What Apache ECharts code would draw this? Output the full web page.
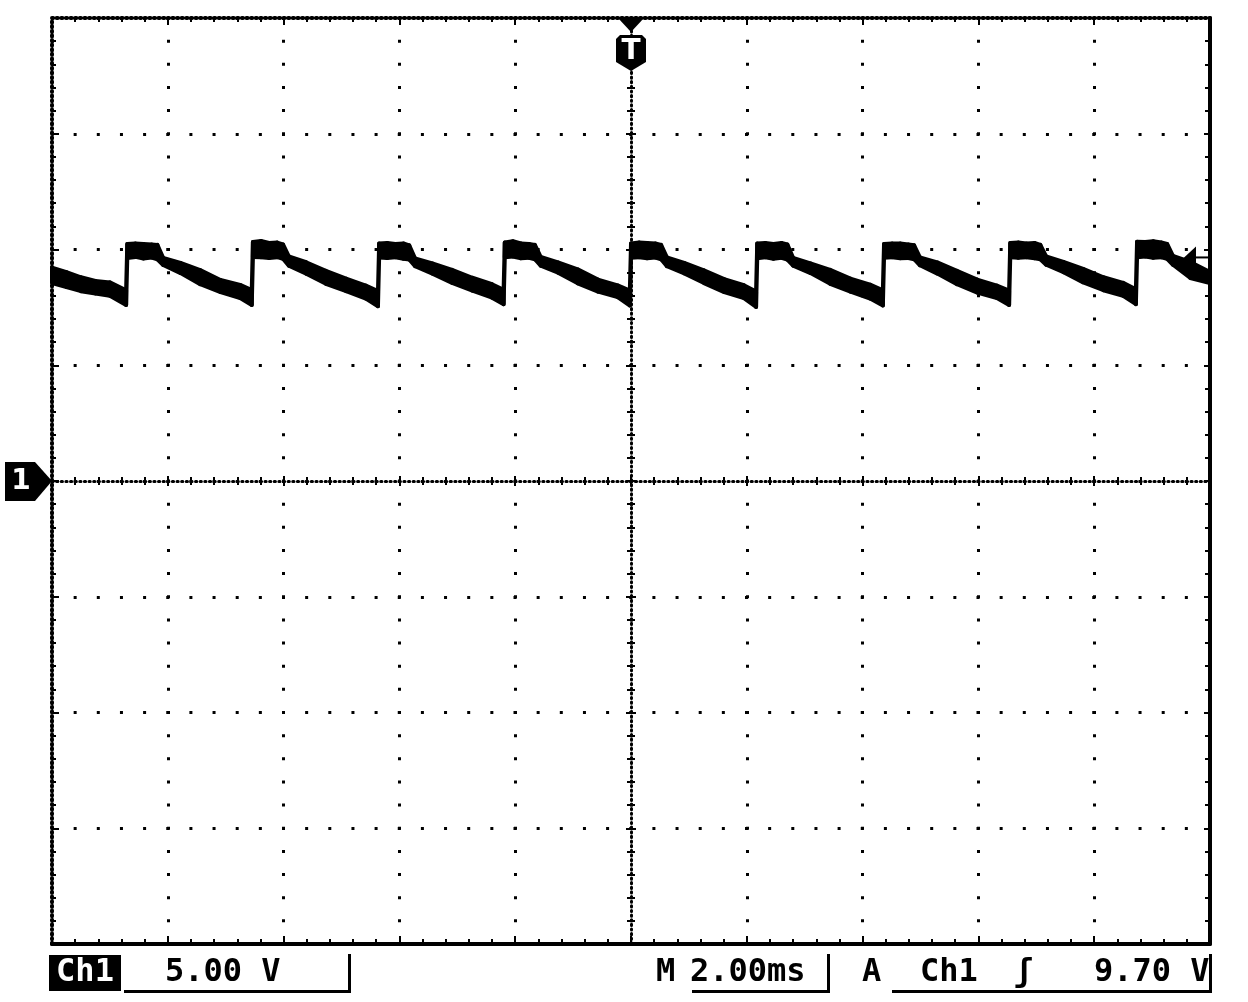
<!DOCTYPE html>
<html>
<head>
<meta charset="utf-8">
<script src="https://cdn.jsdelivr.net/npm/echarts@6/dist/echarts.min.js"></script>
<style>
html,body{margin:0;padding:0;background:#fff;}
#chart{width:1248px;height:1002px;}
</style>
</head>
<body>
<div id="chart"></div>
<script>
// Time (ms, trigger at 0) and trace envelope (V)
const timeMs = [
  -10.00, -9.75, -9.50, -9.25, -9.00, -8.72,
  -8.70, -8.56, -8.42, -8.28, -8.18, -8.08, -7.78, -7.44, -7.09, -6.75, -6.55,
  -6.53, -6.39, -6.25, -6.11, -6.01, -5.91, -5.61, -5.27, -4.92, -4.58, -4.37,
  -4.35, -4.21, -4.07, -3.93, -3.83, -3.73, -3.43, -3.09, -2.74, -2.40, -2.20,
  -2.18, -2.04, -1.90, -1.76, -1.66, -1.56, -1.26, -0.92, -0.57, -0.23, -0.02,
  0.00, 0.14, 0.28, 0.42, 0.52, 0.62, 0.92, 1.26, 1.61, 1.95, 2.16,
  2.18, 2.32, 2.46, 2.60, 2.70, 2.80, 3.10, 3.44, 3.79, 4.13, 4.35,
  4.37, 4.51, 4.65, 4.79, 4.89, 4.99, 5.29, 5.63, 5.98, 6.32, 6.53,
  6.55, 6.69, 6.83, 6.97, 7.07, 7.17, 7.47, 7.81, 8.16, 8.50, 8.72,
  8.74, 8.88, 9.02, 9.16, 9.26, 9.36, 9.66, 10.00
];
const upperV = [
  9.22, 9.02, 8.80, 8.64, 8.58, 8.24,
  10.24, 10.26, 10.24, 10.22, 10.20, 9.64, 9.42, 9.11, 8.68, 8.47, 8.25,
  10.32, 10.37, 10.28, 10.30, 10.22, 9.70, 9.45, 9.08, 8.74, 8.44, 8.20,
  10.26, 10.28, 10.24, 10.26, 10.18, 9.62, 9.40, 9.12, 8.78, 8.50, 8.26,
  10.30, 10.36, 10.26, 10.24, 10.20, 9.68, 9.44, 9.14, 8.70, 8.45, 8.22,
  10.26, 10.30, 10.28, 10.26, 10.20, 9.66, 9.42, 9.10, 8.72, 8.46, 8.18,
  10.26, 10.28, 10.24, 10.28, 10.22, 9.64, 9.40, 9.12, 8.74, 8.48, 8.24,
  10.24, 10.26, 10.26, 10.22, 10.18, 9.66, 9.44, 9.08, 8.70, 8.44, 8.22,
  10.28, 10.30, 10.26, 10.28, 10.20, 9.70, 9.46, 9.16, 8.80, 8.56, 8.28,
  10.34, 10.32, 10.36, 10.30, 10.24, 9.72, 9.46, 9.03
];
const lowerV = [
  8.55, 8.38, 8.20, 8.10, 8.00, 7.60,
  9.63, 9.68, 9.61, 9.65, 9.58, 9.33, 8.98, 8.50, 8.16, 7.90, 7.60,
  9.68, 9.66, 9.63, 9.67, 9.60, 9.30, 8.95, 8.52, 8.20, 7.88, 7.55,
  9.65, 9.63, 9.66, 9.60, 9.57, 9.28, 8.96, 8.56, 8.22, 7.92, 7.64,
  9.66, 9.70, 9.62, 9.64, 9.58, 9.30, 9.00, 8.54, 8.18, 7.94, 7.58,
  9.64, 9.66, 9.62, 9.65, 9.58, 9.28, 8.97, 8.55, 8.16, 7.90, 7.52,
  9.62, 9.66, 9.60, 9.64, 9.56, 9.30, 8.98, 8.52, 8.18, 7.88, 7.58,
  9.64, 9.66, 9.62, 9.63, 9.58, 9.32, 8.96, 8.50, 8.14, 7.90, 7.60,
  9.66, 9.64, 9.66, 9.62, 9.58, 9.34, 9.02, 8.58, 8.24, 8.00, 7.64,
  9.66, 9.70, 9.64, 9.66, 9.60, 9.34, 8.77, 8.55
];
// Scope settings / readouts
const xRange = [-10, 10];   // ms (2.00 ms/div)
const yRange = [-20, 20];   // V (5.00 V/div)
const xStep = 2;
const yStep = 5;
const triggerLevel = 9.70;
const readouts = { ch: 'Ch1', volts: '5.00 V', m: 'M', time: '2.00ms', a: 'A', trigCh: 'Ch1', slope: 'ʃ', level: '9.70 V' };

const chart = echarts.init(document.getElementById('chart'), null, { renderer: 'canvas' });
const BLACK = '#000';
const DOT = { show: true, lineStyle: { color: BLACK, width: 3, type: [3, 20.15], dashOffset: 1.5 } };
const dashed = (w) => ({ color: BLACK, width: w, type: [1.2, 3.43] });

function xAx(extra) {
  return Object.assign({
    type: 'value', min: xRange[0], max: xRange[1], interval: xStep,
    axisLabel: { show: false }, splitLine: { show: false }
  }, extra);
}
function yAx(extra) {
  return Object.assign({
    type: 'value', min: yRange[0], max: yRange[1], interval: yStep,
    axisLabel: { show: false }, splitLine: { show: false }
  }, extra);
}
const tick = (inside, len) => ({ show: true, inside: inside, length: len, lineStyle: { color: BLACK, width: 2 } });
const minor = (len) => ({ show: true, splitNumber: 5, length: len, lineStyle: { color: BLACK, width: 2 } });

const traceData = timeMs.map((t, i) => [t, upperV[i], lowerV[i]]);

const option = {
  animation: false,
  backgroundColor: '#fff',
  grid: { left: 52, right: 38, top: 18, bottom: 58, containLabel: false },
  xAxis: [
    xAx({ position: 'bottom', axisLine: { show: true, onZero: false, lineStyle: { color: BLACK, width: 4 } },
          axisTick: tick(true, 8), minorTick: minor(5), splitLine: DOT }),
    xAx({ position: 'top', axisLine: { show: true, onZero: false, lineStyle: dashed(4) },
          axisTick: tick(true, 7), minorTick: minor(4) }),
    xAx({ position: 'bottom', axisLine: { show: true, onZero: true, onZeroAxisIndex: 0, lineStyle: dashed(3) },
          axisTick: tick(true, 5), minorTick: minor(4) }),
    xAx({ position: 'bottom', axisLine: { show: false, onZero: true, onZeroAxisIndex: 0 },
          axisTick: tick(false, 5), minorTick: minor(4) })
  ],
  yAxis: [
    yAx({ position: 'left', axisLine: { show: true, onZero: false, lineStyle: dashed(4) },
          axisTick: tick(true, 7), minorTick: minor(4), splitLine: DOT }),
    yAx({ position: 'right', axisLine: { show: true, onZero: false, lineStyle: { color: BLACK, width: 4 } },
          axisTick: tick(true, 6), minorTick: minor(5) }),
    yAx({ position: 'left', axisLine: { show: true, onZero: true, onZeroAxisIndex: 0, lineStyle: dashed(3) },
          axisTick: tick(true, 5), minorTick: minor(4) }),
    yAx({ position: 'left', axisLine: { show: false, onZero: true, onZeroAxisIndex: 0 },
          axisTick: tick(false, 5), minorTick: minor(4) })
  ],
  series: [
    {
      type: 'custom', name: 'Ch1', xAxisIndex: 0, yAxisIndex: 0, z: 5,
      data: traceData,
      encode: { x: 0, y: [1, 2] },
      renderItem: function (params, api) {
        const i = params.dataIndex;
        if (i >= traceData.length - 1) return null;
        const a = traceData[i], b = traceData[i + 1];
        const p1 = api.coord([a[0], a[1]]), p2 = api.coord([b[0], b[1]]);
        const p3 = api.coord([b[0], b[2]]), p4 = api.coord([a[0], a[2]]);
        return {
          type: 'polygon',
          shape: { points: [p1, p2, p3, p4] },
          style: { fill: BLACK, stroke: BLACK, lineWidth: 4, lineJoin: 'round' }
        };
      }
    }
  ]
};
chart.setOption(option);

// Markers and readouts
const origin = chart.convertToPixel({ gridIndex: 0 }, [0, 0]);
const trig = chart.convertToPixel({ gridIndex: 0 }, [xRange[1], triggerLevel]);
const topY = chart.convertToPixel({ gridIndex: 0 }, [0, yRange[1]])[1];
const cx = origin[0], gy = origin[1];
const FONT = '"DejaVu Sans Mono", monospace';
const txt = (x, y, s, fill, align) => ({
  type: 'text', x: x, y: y, z: 100,
  style: { text: s, fill: fill || BLACK, font: 'bold 32px ' + FONT, align: align || 'left', verticalAlign: 'middle' }
});
const ln = (x1, y1, x2, y2, w) => ({ type: 'line', z: 100, shape: { x1, y1, x2, y2 }, style: { stroke: BLACK, lineWidth: w || 3 } });

chart.setOption({
  graphic: [
    // trigger position marker
    { type: 'polygon', z: 100, shape: { points: [[cx - 13, topY], [cx + 13, topY], [cx, topY + 14]] }, style: { fill: BLACK } },
    { type: 'polygon', z: 100, shape: { points: [[cx - 11, topY + 17], [cx + 11, topY + 17], [cx + 15, topY + 21], [cx + 15, topY + 44], [cx, topY + 53], [cx - 15, topY + 44], [cx - 15, topY + 21]] }, style: { fill: BLACK } },
    { type: 'text', x: cx, y: topY + 34, z: 101, style: { text: 'T', fill: '#fff', font: 'bold 28px "DejaVu Sans", sans-serif', align: 'center', verticalAlign: 'middle' } },
    // channel 1 ground marker
    { type: 'polygon', z: 100, shape: { points: [[5, gy - 19], [35, gy - 19], [52, gy], [35, gy + 20], [5, gy + 20]] }, style: { fill: BLACK } },
    { type: 'text', x: 21, y: gy + 1, z: 101, style: { text: '1', fill: '#fff', font: 'bold 28px "DejaVu Sans", sans-serif', align: 'center', verticalAlign: 'middle' } },
    // trigger level marker
    { type: 'polygon', z: 100, shape: { points: [[trig[0] - 27, trig[1] + 2], [trig[0] - 14, trig[1] - 10], [trig[0] - 14, trig[1] + 12]] }, style: { fill: BLACK } },
    ln(trig[0] - 14, trig[1] + 1, trig[0], trig[1] + 1, 2),
    // readouts
    { type: 'rect', z: 100, shape: { x: 49, y: 955, width: 72, height: 36 }, style: { fill: BLACK } },
    txt(85, 973, readouts.ch, '#fff', 'center'),
    txt(165, 973, readouts.volts),
    ln(124, 991.5, 351, 991.5, 3),
    ln(349.5, 954, 349.5, 993, 3),
    txt(656, 973, readouts.m),
    txt(690, 973, readouts.time),
    ln(692, 991.5, 830, 991.5, 3),
    ln(828.5, 954, 828.5, 993, 3),
    txt(862, 973, readouts.a),
    txt(920, 973, readouts.trigCh),
    txt(1014, 973, readouts.slope),
    txt(1094, 973, readouts.level),
    ln(892, 991.5, 1212, 991.5, 3),
    ln(1210.5, 954, 1210.5, 993, 3)
  ]
});
</script>
</body>
</html>
